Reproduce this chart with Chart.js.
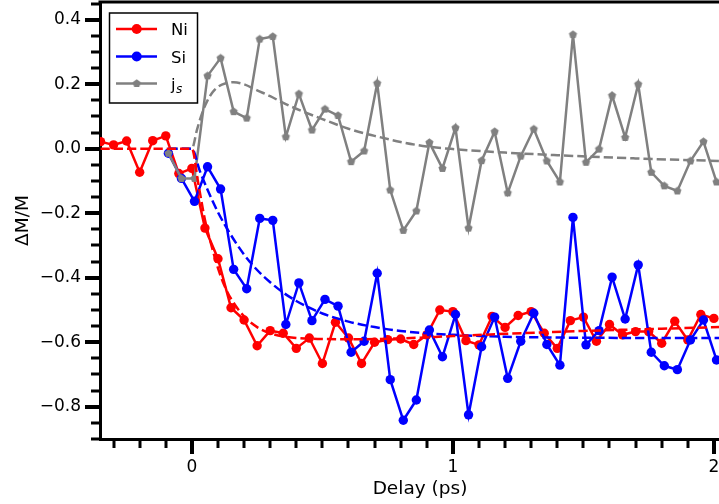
<!DOCTYPE html>
<html>
<head>
<meta charset="utf-8">
<script src="https://cdn.jsdelivr.net/npm/chart.js@4.4.0/dist/chart.umd.min.js"></script>
<style>
  html, body { margin: 0; padding: 0; overflow: hidden; background: #fff; }
  canvas { display: block; }
</style>
</head>
<body>
<canvas id="chart" width="740" height="504"></canvas>
<script>
// measured data (delay in ps, dM/M)
const niX = [-0.35, -0.30, -0.25, -0.20, -0.15, -0.10, -0.05, 0.00, 0.05, 0.10, 0.15, 0.20, 0.25, 0.30, 0.35, 0.40,
  0.45, 0.50, 0.55, 0.60, 0.65, 0.70, 0.75, 0.80, 0.85, 0.90, 0.95, 1.00, 1.05, 1.10, 1.15, 1.20, 1.25, 1.30,
  1.35, 1.40, 1.45, 1.50, 1.55, 1.60, 1.65, 1.70, 1.75, 1.80, 1.85, 1.90, 1.95, 2.00];
const niY = [0.022, 0.012, 0.024, -0.073, 0.025, 0.040, -0.077, -0.061, -0.246, -0.341, -0.493, -0.531, -0.611, -0.564,
  -0.572, -0.619, -0.587, -0.666, -0.538, -0.587, -0.666, -0.600, -0.592, -0.590, -0.607, -0.577, -0.500, -0.505,
  -0.595, -0.608, -0.520, -0.554, -0.517, -0.505, -0.572, -0.619, -0.533, -0.522, -0.597, -0.545, -0.577, -0.567,
  -0.567, -0.603, -0.535, -0.593, -0.514, -0.526];

const siX = [-0.09, -0.04, 0.01, 0.06, 0.11, 0.16, 0.21, 0.26, 0.31, 0.36, 0.41, 0.46, 0.51, 0.56, 0.61, 0.66,
  0.71, 0.76, 0.81, 0.86, 0.91, 0.96, 1.01, 1.06, 1.11, 1.16, 1.21, 1.26, 1.31, 1.36, 1.41, 1.46, 1.51, 1.56,
  1.61, 1.66, 1.71, 1.76, 1.81, 1.86, 1.91, 1.96, 2.01];
const siY = [-0.014, -0.092, -0.163, -0.056, -0.125, -0.374, -0.434, -0.216, -0.222, -0.545, -0.416, -0.533, -0.467,
  -0.488, -0.631, -0.597, -0.386, -0.716, -0.842, -0.779, -0.562, -0.645, -0.514, -0.825, -0.614, -0.522, -0.712,
  -0.597, -0.510, -0.607, -0.671, -0.213, -0.608, -0.564, -0.398, -0.528, -0.360, -0.631, -0.673, -0.685, -0.593,
  -0.531, -0.655];

const jsX = siX;
const jsY = [-0.014, -0.092, -0.092, 0.226, 0.281, 0.115, 0.095, 0.340, 0.348, 0.037, 0.170, 0.058, 0.123, 0.103,
  -0.040, -0.007, 0.203, -0.128, -0.253, -0.193, 0.019, -0.061, 0.065, -0.246, -0.037, 0.053, -0.137, -0.023, 0.061,
  -0.038, -0.103, 0.354, -0.042, -0.001, 0.165, 0.035, 0.200, -0.073, -0.115, -0.131, -0.038, 0.022, -0.103];

// fit curves
const niFitX = [-0.35, 0, 0.025, 0.05, 0.075, 0.1, 0.125, 0.15, 0.2, 0.25, 0.3, 0.35, 0.4, 0.5, 0.6, 0.8, 1.0, 1.2, 1.5, 1.8, 2.1];
const niFitY = [0, 0, -0.11, -0.22, -0.30, -0.37, -0.425, -0.465, -0.52, -0.553, -0.572, -0.582, -0.587, -0.590, -0.591,
  -0.588, -0.581, -0.574, -0.565, -0.558, -0.551];
const siFitX = [-0.09, 0, 0.03, 0.06, 0.1, 0.15, 0.2, 0.25, 0.3, 0.35, 0.4, 0.45, 0.5, 0.6, 0.7, 0.8, 0.9, 1.0, 1.2, 1.5, 2.1];
const siFitY = [0, 0, -0.068, -0.127, -0.197, -0.268, -0.328, -0.376, -0.414, -0.446, -0.472, -0.493, -0.511, -0.536,
  -0.553, -0.565, -0.572, -0.577, -0.583, -0.586, -0.587];
const jsFitX = [-0.09, 0, 0.02, 0.04, 0.06, 0.08, 0.1, 0.13, 0.16, 0.2, 0.25, 0.3, 0.35, 0.4, 0.5, 0.6, 0.7, 0.8, 0.9,
  1.0, 1.2, 1.4, 1.7, 2.1];
const jsFitY = [0, 0, 0.06, 0.112, 0.15, 0.176, 0.192, 0.203, 0.206, 0.2, 0.181, 0.163, 0.142, 0.124, 0.092, 0.062,
  0.04, 0.021, 0.007, -0.001, -0.012, -0.02, -0.03, -0.04];

const xMajor = [0, 1, 2];
const xLabels = ['0', '1', '2'];
const yMajor = [-0.8, -0.6, -0.4, -0.2, 0, 0.2, 0.4];
const yLabels = ['\u22120.8', '\u22120.6', '\u22120.4', '\u22120.2', '0.0', '0.2', '0.4'];

const RED = '#ff0000', BLUE = '#0000ff', GRAY = '#808080';
const FONT = 'DejaVu Sans';

const xy = (xs, ys) => xs.map((x, i) => ({ x: x, y: ys[i] }));

function pentagon(r, color) {
  const c = document.createElement('canvas');
  const s = Math.ceil(r * 2 + 2);
  c.width = s; c.height = s;
  const g = c.getContext('2d');
  g.fillStyle = color;
  g.beginPath();
  for (let i = 0; i < 5; i++) {
    const a = -Math.PI / 2 + i * 2 * Math.PI / 5;
    g.lineTo(s / 2 + r * Math.cos(a), s / 2 + r * Math.sin(a));
  }
  g.closePath();
  g.fill();
  return c;
}
const penta = pentagon(4.3, GRAY);

// ticks, top spine and the legend
const decorations = {
  id: 'decorations',
  afterDraw(chart) {
    const { ctx, chartArea, scales } = chart;
    ctx.save();
    ctx.strokeStyle = '#000';
    // top spine
    ctx.lineWidth = 3;
    ctx.beginPath();
    ctx.moveTo(chartArea.left - 1.5, chartArea.top);
    ctx.lineTo(chartArea.right, chartArea.top);
    ctx.stroke();

    for (let i = -3; i <= 21; i++) {
      const v = i / 10;
      const major = i % 10 === 0;
      const px = Math.round(scales.x.getPixelForValue(v));
      ctx.lineWidth = major ? 4 : 3;
      ctx.beginPath();
      ctx.moveTo(px, chartArea.bottom);
      ctx.lineTo(px, chartArea.bottom + (major ? 15 : 9));
      ctx.stroke();
    }
    for (let i = -18; i <= 9; i++) {
      const v = i / 20;
      const major = i % 4 === 0;
      const py = Math.round(scales.y.getPixelForValue(v));
      ctx.lineWidth = major ? 4 : 3;
      ctx.beginPath();
      ctx.moveTo(chartArea.left, py);
      ctx.lineTo(chartArea.left - (major ? 15 : 9), py);
      ctx.stroke();
    }

    // legend
    const bx = 109.5, by = 13, bw = 88, bh = 90;
    ctx.fillStyle = '#fff';
    ctx.fillRect(bx, by, bw, bh);
    ctx.lineWidth = 1.5;
    ctx.strokeRect(bx, by, bw, bh);
    const items = [
      { label: 'Ni', color: RED, y: 29 },
      { label: 'Si', color: BLUE, y: 56.5 },
      { label: 'j', sub: 's', color: GRAY, y: 83.5 }
    ];
    items.forEach(it => {
      ctx.strokeStyle = it.color;
      ctx.lineWidth = 2.5;
      ctx.beginPath();
      ctx.moveTo(116, it.y);
      ctx.lineTo(157, it.y);
      ctx.stroke();
      if (it.sub) {
        ctx.drawImage(penta, 136.7 - penta.width / 2, it.y - penta.height / 2);
      } else {
        ctx.fillStyle = it.color;
        ctx.beginPath();
        ctx.arc(136.7, it.y, 5, 0, Math.PI * 2);
        ctx.fill();
      }
      ctx.fillStyle = '#000';
      ctx.textBaseline = 'alphabetic';
      ctx.font = '16.5px "' + FONT + '"';
      ctx.fillText(it.label, 171, it.y + 6);
      if (it.sub) {
        const w = ctx.measureText(it.label).width;
        ctx.font = 'italic 12px "' + FONT + '"';
        ctx.fillText(it.sub, 171 + w + 0.5, it.y + 9);
      }
    });
    ctx.restore();
  }
};

Chart.defaults.color = '#000';
Chart.defaults.font.family = FONT;
Chart.defaults.font.size = 17;

new Chart(document.getElementById('chart'), {
  type: 'line',
  data: {
    datasets: [
      { label: 'Ni fit', data: xy(niFitX, niFitY), borderColor: RED, borderWidth: 2.5, borderDash: [9.25, 4],
        pointRadius: 0, cubicInterpolationMode: 'monotone', order: 4 },
      { label: 'Si fit', data: xy(siFitX, siFitY), borderColor: BLUE, borderWidth: 2.5, borderDash: [9.25, 4],
        pointRadius: 0, cubicInterpolationMode: 'monotone', order: 4 },
      { label: 'js fit', data: xy(jsFitX, jsFitY), borderColor: GRAY, borderWidth: 2.5, borderDash: [9.25, 4],
        pointRadius: 0, cubicInterpolationMode: 'monotone', order: 4 },
      { label: 'Ni', data: xy(niX, niY), borderColor: RED, backgroundColor: RED, borderWidth: 2.5,
        pointRadius: 4.7, pointBorderWidth: 0, order: 7 },
      { label: 'Si', data: xy(siX, siY), borderColor: BLUE, backgroundColor: BLUE, borderWidth: 2.5,
        pointRadius: 4.7, pointBorderWidth: 0, order: 6 },
      { label: 'js', data: xy(jsX, jsY), borderColor: GRAY, backgroundColor: GRAY, borderWidth: 2.5,
        pointStyle: penta, pointRadius: 4.3, order: 5 }
    ]
  },
  options: {
    responsive: false,
    animation: false,
    layout: { autoPadding: false, padding: { top: 2, left: 0, right: 0, bottom: 0 } },
    plugins: { legend: { display: false }, tooltip: { enabled: false } },
    scales: {
      x: {
        type: 'linear',
        min: -0.352,
        max: 2.1,
        afterFit: s => { s.height = 65; s.paddingLeft = 0; s.paddingRight = 0; },
        afterBuildTicks: s => { s.ticks = xMajor.map(v => ({ value: v })); },
        ticks: {
          autoSkip: false, maxRotation: 0, padding: 3,
          callback: v => xLabels[xMajor.indexOf(v)]
        },
        grid: { drawOnChartArea: false, drawTicks: true, tickLength: 15, tickColor: 'rgba(0,0,0,0)' },
        border: { display: true, color: '#000', width: 3 },
        title: { display: true, text: 'Delay (ps)', font: { size: 18.5 }, padding: { top: 0, bottom: 4 } }
      },
      y: {
        type: 'linear',
        min: -0.9,
        max: 0.455,
        afterFit: s => { s.width = 100; s.paddingTop = 0; s.paddingBottom = 0; },
        afterBuildTicks: s => { s.ticks = yMajor.map(v => ({ value: v })); },
        ticks: {
          autoSkip: false, padding: 4,
          callback: v => yLabels[yMajor.findIndex(m => Math.abs(m - v) < 1e-9)]
        },
        grid: { drawOnChartArea: false, drawTicks: true, tickLength: 15, tickColor: 'rgba(0,0,0,0)' },
        border: { display: true, color: '#000', width: 3 },
        title: { display: true, text: '\u0394M/M', font: { size: 18.5 }, padding: { top: 12, bottom: 0 } }
      }
    }
  },
  plugins: [decorations]
});
</script>
</body>
</html>
